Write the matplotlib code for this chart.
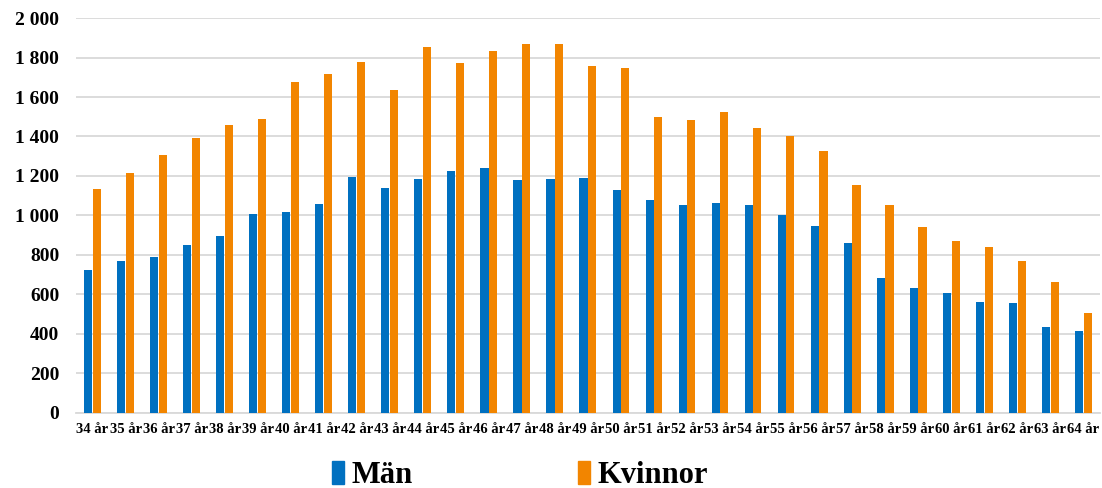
import numpy as np
import matplotlib
matplotlib.use('Agg')
import matplotlib.pyplot as plt
from matplotlib.patches import Patch


ages = [f'{a} år' for a in range(34, 65)]

man = [725, 768, 791, 851, 896, 1008, 1018, 1056, 1196, 1139,
       1185, 1223, 1240, 1178, 1185, 1190, 1129, 1078, 1051, 1063,
       1051, 1001, 945, 862, 684, 634, 608, 562, 557, 434, 417]

kvinnor = [1135, 1213, 1306, 1391, 1456, 1490, 1674, 1718, 1779, 1635,
           1851, 1774, 1833, 1868, 1868, 1757, 1745, 1500, 1485, 1524,
           1445, 1401, 1328, 1156, 1051, 940, 872, 839, 768, 662, 506]

BLUE = '#0070C0'
ORANGE = '#F28500'
SERIF = ['Liberation Serif', 'DejaVu Serif']


def fmt_thousands(v, _pos=None):
    return f'{int(v):,}'.replace(',', ' ')


fig = plt.figure(figsize=(11.02, 4.88), dpi=100)
ax = fig.add_axes([0.069, 0.154, 0.929, 0.809])

x = np.arange(len(ages))
w = 0.245
ax.bar(x - w / 2 - 0.01, man, width=w, color=BLUE, zorder=3)
ax.bar(x + w / 2 + 0.01, kvinnor, width=w, color=ORANGE, zorder=3)

ax.set_xlim(-0.5, len(ages) - 0.5)
ax.set_ylim(0, 2000)
ax.set_yticks(np.arange(0, 2001, 200))
ax.yaxis.set_major_formatter(plt.FuncFormatter(fmt_thousands))
ax.grid(axis='y', color='#d9d9d9', linewidth=1.3, zorder=0)

for s in ['top', 'right', 'left']:
    ax.spines[s].set_visible(False)
ax.spines['bottom'].set_color('#d9d9d9')
ax.spines['bottom'].set_linewidth(1.3)

ax.set_xticks(x)
ax.set_xticklabels(ages)
ax.tick_params(axis='both', length=0)
ax.tick_params(axis='x', pad=7)
ax.tick_params(axis='y', pad=12)
for lbl in ax.get_yticklabels():
    lbl.set_fontfamily(SERIF)
    lbl.set_fontweight('bold')
    lbl.set_fontsize(14)
for lbl in ax.get_xticklabels():
    lbl.set_fontfamily(SERIF)
    lbl.set_fontweight('bold')
    lbl.set_fontsize(10.5)

handles = [Patch(color=BLUE, label='Män'), Patch(color=ORANGE, label='Kvinnor')]
fig.legend(handles=handles, loc='center', bbox_to_anchor=(0.472, 0.026),
           ncol=2, frameon=False, handlelength=0.4, handleheight=0.8,
           handletextpad=0.25, columnspacing=5.4,
           prop={'family': SERIF, 'weight': 'bold', 'size': 22})

fig.savefig('out.png', dpi=100)
